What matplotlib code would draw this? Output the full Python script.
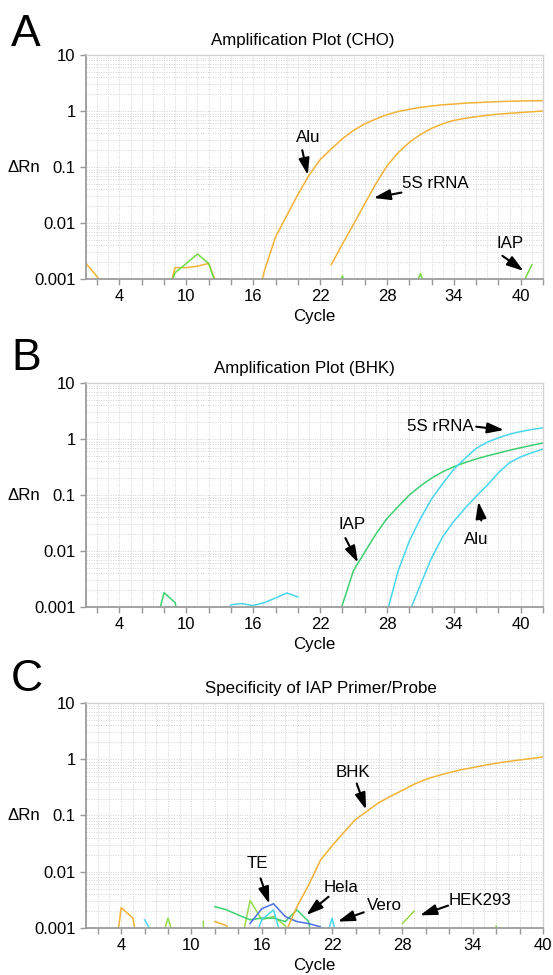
import numpy as np
import matplotlib
matplotlib.use("Agg")
import matplotlib.pyplot as plt
import matplotlib.transforms as mtransforms
from matplotlib.ticker import FixedLocator, FixedFormatter, FuncFormatter, LogLocator, MultipleLocator, NullFormatter

plt.rcParams["font.family"] = ["Liberation Sans", "DejaVu Sans"]

N = None
cycles_ab = list(range(1, 43))
cycles_c = list(range(1, 41))

ytick_values = [0.001, 0.01, 0.1, 1, 10]
ytick_labels = ["0.001", "0.01", "0.1", "1", "10"]

# panel A: CHO, cycles 1..42
cho_alu = [0.0019, 0.0011, 0.0005, N, N, N, N, N, N, N,
           N, N, N, N, N, 0.0002, 0.0014, 0.0056, 0.0135, 0.032,
           0.071, 0.135, 0.21, 0.32, 0.45, 0.59, 0.72, 0.86, 0.98, 1.07,
           1.16, 1.23, 1.29, 1.33, 1.38, 1.41, 1.44, 1.47, 1.49, 1.51,
           1.52, 1.53]
cho_5s = [N, N, N, N, N, N, N, 0.0003, 0.0016, 0.0016,
          0.0017, 0.0019, 0.0006, N, N, N, N, N, N, N,
          N, N, 0.0018, 0.0042, 0.0095, 0.022, 0.050, 0.105, 0.18, 0.275,
          0.38, 0.49, 0.59, 0.68, 0.74, 0.79, 0.84, 0.88, 0.91, 0.94,
          0.97, 1.0]
cho_iap = [N, N, N, N, N, N, N, 0.0004, 0.0013, 0.0019,
           0.0028, 0.0019, 0.0005, N, N, N, N, N, N, N,
           N, N, 0.0002, 0.00115, 0.0002, N, N, N, N, 0.0004,
           0.00125, 0.0004, N, N, N, N, N, N, N, 0.0007,
           0.0018, N]

# panel B: BHK, cycles 1..42
bhk_iap = [N, N, N, N, N, N, 0.0003, 0.0018, 0.0012, 0.0001,
           N, N, N, N, N, N, N, N, N, N,
           N, N, 0.0004, 0.0011, 0.0045, 0.0095, 0.020, 0.038, 0.062, 0.10,
           0.145, 0.20, 0.26, 0.32, 0.38, 0.44, 0.50, 0.56, 0.63, 0.70,
           0.77, 0.85]
bhk_5s = [N, N, N, N, N, N, N, N, N, N,
          N, N, 0.0004, 0.0011, 0.00115, 0.00106, 0.0012, 0.00145, 0.00178, 0.00152,
          N, N, N, N, N, N, 0.0002, 0.0008, 0.0044, 0.015,
          0.038, 0.085, 0.16, 0.29, 0.45, 0.68, 0.88, 1.05, 1.22, 1.36,
          1.48, 1.58]
bhk_alu = [N, N, N, N, N, N, N, N, N, N,
           N, N, N, N, N, N, N, N, N, N,
           N, N, N, N, N, N, N, N, 0.0002, 0.0008,
           0.0025, 0.0075, 0.018, 0.034, 0.058, 0.095, 0.15, 0.25, 0.38, 0.48,
           0.57, 0.66]

# panel C: specificity, cycles 1..40
spec_bhk = [N, N, 0.00005, 0.0023, 0.0015, 0.0001, N, N, N, N,
            N, 0.0013, 0.0011, 0.0002, N, N, 0.0002, 0.0008, 0.0024, 0.0058,
            0.016, 0.029, 0.050, 0.085, 0.12, 0.17, 0.22, 0.28, 0.36, 0.44,
            0.51, 0.58, 0.65, 0.71, 0.78, 0.85, 0.91, 0.97, 1.03, 1.10]
spec_hela = [N, N, N, N, N, N, N, N, N, N,
             N, 0.0024, 0.0021, 0.0017, 0.0014, 0.0015, 0.0015, 0.0013, 0.0021, 0.0013,
             0.0001, N, N, N, N, N, N, N, N, N,
             N, N, N, N, N, N, N, N, N, N]
spec_hek = [N, N, N, N, N, N, 0.0003, 0.0015, 0.0003, N,
            0.0013, 0.000001, N, 0.0003, 0.0031, 0.0014, 0.0016, 0.0011, 0.0003, N,
            N, N, N, N, N, N, N, 0.0012, 0.0020, N,
            N, N, N, N, N, 0.00108, 0.000001, N, N, N]
spec_vero = [N, N, N, N, N, 0.0014, 0.0006, N, N, N,
             N, N, N, N, 0.0004, 0.0014, 0.0021, 0.0004, N, N,
             0.0003, 0.0015, 0.0002, N, N, N, N, N, N, N,
             N, N, N, N, N, N, N, N, N, N]
spec_te = [N, N, N, N, N, N, N, N, N, N,
           N, N, N, N, 0.0012, 0.0022, 0.0027, 0.0016, 0.0013, 0.0012,
           0.00105, 0.0003, N, N, N, N, N, N, N, N,
           N, N, N, N, N, N, N, N, N, N]

ORANGE = "#f2b235"
LIME = "#72da48"
GREEN = "#3dd070"
CYAN = "#48d6ee"
BLUE = "#4a70e4"
HEK_LIME = "#98da4a"

FS = 12.2


def arr(values):
    return np.array(values, dtype=float)


def style_axes(ax, title, xmax, title_x):
    ax.set_yscale("log")
    ax.set_ylim(0.001, 10)
    ax.set_xlim(1, xmax)
    ax.yaxis.set_major_locator(FixedLocator(ytick_values))
    ax.yaxis.set_major_formatter(FixedFormatter(ytick_labels))
    ax.yaxis.set_minor_locator(LogLocator(base=10, subs=range(2, 10)))
    ax.yaxis.set_minor_formatter(NullFormatter())
    ax.xaxis.set_major_locator(MultipleLocator(2))
    ax.xaxis.set_major_formatter(
        FuncFormatter(lambda v, p: "%d" % round(v) if (round(v) - 4) % 6 == 0 else ""))
    ax.xaxis.set_minor_locator(MultipleLocator(1))
    ax.grid(which="both", color="#d4d4d4", linestyle=(0, (1, 1.5)), linewidth=0.7)
    ax.set_axisbelow(True)
    ax.tick_params(axis="both", which="major", labelsize=12, colors="#999999",
                   labelcolor="black", length=4, width=1)
    ax.tick_params(axis="both", which="minor", length=0)
    for side in ("left", "bottom"):
        ax.spines[side].set_color("#9c9c9c")
        ax.spines[side].set_linewidth(1.3)
    for side in ("top", "right"):
        ax.spines[side].set_color("#d2d2d2")
        ax.spines[side].set_linewidth(1.0)
    ax.set_title(title, fontsize=FS, x=title_x, pad=7)
    ax.set_xlabel("Cycle", fontsize=FS, labelpad=3)
    trans = mtransforms.blended_transform_factory(ax.transAxes, ax.transData)
    ax.text(-0.135, 0.1, "\u0394Rn", transform=trans, ha="center", va="center", fontsize=FS)


def note(ax, text, text_xy, tail_xy, tip_xy):
    ax.text(text_xy[0], text_xy[1], text, ha="center", va="center", fontsize=FS)
    ax.annotate("", xy=tip_xy, xytext=tail_xy,
                arrowprops=dict(arrowstyle="-|>,head_length=1.0,head_width=0.32",
                                color="black", lw=1.5, shrinkA=0, shrinkB=0))


fig = plt.figure(figsize=(5.53, 9.75), dpi=100)
ax_a = fig.add_axes([0.1555, 0.7138, 0.8265, 0.2298])
ax_b = fig.add_axes([0.1555, 0.3774, 0.8265, 0.2298])
ax_c = fig.add_axes([0.1555, 0.0482, 0.8265, 0.2308])

# A
lw = 1.1
ax_a.plot(cycles_ab, arr(cho_alu), color=ORANGE, lw=lw)
ax_a.plot(cycles_ab, arr(cho_5s), color=ORANGE, lw=lw)
ax_a.plot(cycles_ab, arr(cho_iap), color=LIME, lw=lw)
style_axes(ax_a, "Amplification Plot (CHO)", 42, 0.474)
note(ax_a, "Alu", (20.9, 0.33), (20.4, 0.20), (20.9, 0.072))
note(ax_a, "5S rRNA", (32.3, 0.051), (29.3, 0.035), (26.8, 0.028))
note(ax_a, "IAP", (39.0, 0.0043), (38.35, 0.0026), (40.25, 0.0014))

# B
ax_b.plot(cycles_ab, arr(bhk_iap), color=GREEN, lw=lw)
ax_b.plot(cycles_ab, arr(bhk_5s), color=CYAN, lw=lw)
ax_b.plot(cycles_ab, arr(bhk_alu), color=CYAN, lw=lw)
style_axes(ax_b, "Amplification Plot (BHK)", 42, 0.478)
note(ax_b, "5S rRNA", (32.8, 1.66), (36.0, 1.66), (38.5, 1.45))
note(ax_b, "IAP", (24.9, 0.030), (24.27, 0.017), (25.4, 0.0062))
note(ax_b, "Alu", (36.0, 0.016), (36.46, 0.035), (36.2, 0.076))

# C
ax_c.plot(cycles_c, arr(spec_hek), color=HEK_LIME, lw=lw)
ax_c.plot(cycles_c, arr(spec_hela), color=GREEN, lw=lw)
ax_c.plot(cycles_c, arr(spec_vero), color=CYAN, lw=lw)
ax_c.plot(cycles_c, arr(spec_te), color=BLUE, lw=lw)
ax_c.plot(cycles_c, arr(spec_bhk), color=ORANGE, lw=lw)
style_axes(ax_c, "Specificity of IAP Primer/Probe", 40, 0.515)
note(ax_c, "BHK", (23.77, 0.59), (24.1, 0.37), (24.9, 0.127))
note(ax_c, "TE", (15.6, 0.0138), (15.9, 0.0076), (16.64, 0.0027))
note(ax_c, "Hela", (22.8, 0.0052), (21.7, 0.0036), (19.8, 0.0017))
note(ax_c, "Vero", (26.5, 0.0025), (24.7, 0.0019), (22.48, 0.0013))
note(ax_c, "HEK293", (34.6, 0.0031), (31.9, 0.0025), (29.5, 0.00168))

fig.text(0.02, 0.953, "A", fontsize=32, va="baseline")
fig.text(0.02, 0.620, "B", fontsize=32, va="baseline")
fig.text(0.02, 0.291, "C", fontsize=32, va="baseline")

fig.savefig("out.png", dpi=100)
